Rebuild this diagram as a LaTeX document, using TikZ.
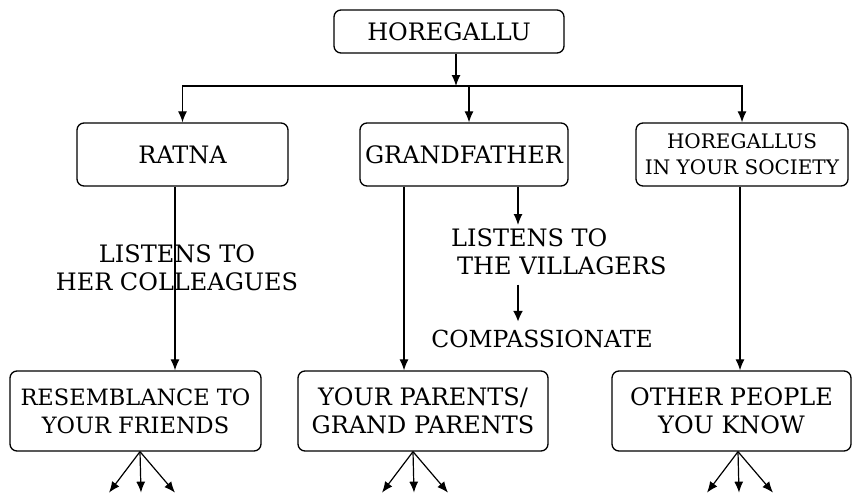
\documentclass[tikz,border=0pt]{standalone}
\usepackage{fontspec}
\setmainfont{DejaVu Serif}
\usetikzlibrary{arrows.meta}
\tikzset{
  boxnode/.style={draw, line width=1.3pt, rounded corners=7pt, inner sep=0pt, align=center, font=\fontsize{24}{28}\selectfont},
  lbl/.style={inner sep=0pt, font=\fontsize{24}{28}\selectfont},
  arr/.style={line width=1.2pt, -{Latex[length=11pt,width=9pt]}},
  thickarr/.style={line width=2.6pt, -{Latex[length=11pt,width=10pt]}},
}
\begin{document}
\begin{tikzpicture}[x=1pt,y=1pt,yscale=-1,xscale=1]
\useasboundingbox (0,0) rectangle (853,495);

%Shape: Rounded Rect (top)
\node[boxnode, minimum width=230pt, minimum height=43pt] (horegallu) at (449,31.5) {HOREGALLU};
%Shape: Rounded Rect (middle row)
\node[boxnode, minimum width=211pt, minimum height=63pt] (ratna) at (182.5,154.5) {RATNA};
\node[boxnode, minimum width=208pt, minimum height=63pt] (grandfather) at (464,154.5) {GRANDFATHER};
\node[boxnode, minimum width=212pt, minimum height=63pt, font=\fontsize{20}{26}\selectfont] (society) at (742,154.5) {HOREGALLUS\\IN YOUR SOCIETY};
%Shape: Rounded Rect (bottom row)
\node[boxnode, minimum width=251pt, minimum height=80pt, font=\fontsize{22.5}{28}\selectfont] (resemblance) at (135.5,411) {RESEMBLANCE TO\\YOUR FRIENDS};
\node[boxnode, minimum width=250pt, minimum height=80pt] (parents) at (423,411) {YOUR PARENTS/\\GRAND PARENTS};
\node[boxnode, minimum width=239pt, minimum height=80pt] (others) at (731.5,411) {OTHER PEOPLE\\YOU KNOW};

% Text Node
\node[lbl, align=center] (colleagues) at (177,268) {LISTENS TO\\HER COLLEAGUES};
% Text Node
\node[lbl, align=left, anchor=north west] (villagers) at (451,228) {LISTENS TO\\\hspace{6pt}THE VILLAGERS};
% Text Node
\node[lbl, font=\fontsize{23.5}{28}\selectfont] (compassion) at (542,339) {COMPASSIONATE};

%Straight Lines (split under the top box)
\coordinate (split) at (456,86);
\draw[arr] (split |- horegallu.south) -- (split);
\draw[arr] (split) -| (ratna.north);
\draw[arr] (split) -| (society.north);
\draw[arr] ([xshift=13pt]split) -- ([xshift=13pt]split |- grandfather.north);

%Straight Lines (down to the bottom row)
\draw[arr] ([xshift=-7.5pt]ratna.south) -- ([xshift=-7.5pt]ratna.south |- resemblance.north);
\draw[arr] ([xshift=-60pt]grandfather.south) -- ([xshift=-60pt]grandfather.south |- parents.north);
\draw[arr] ([xshift=-2pt]society.south) -- ([xshift=-2pt]society.south |- others.north);

%Straight Lines (grandfather branch)
\coordinate (gfx) at ([xshift=54pt]grandfather.south);
\draw[arr] (gfx) -- ([yshift=-3pt]gfx |- villagers.north);
\draw[thickarr] ([yshift=10pt]villagers.south -| gfx) -- ([yshift=-8pt]compassion.north -| gfx);

%Straight Lines (fans)
\foreach \b/\s in {resemblance/4.5, parents/-10, others/6.5}
  \foreach \dx in {-31,1,35}
    \draw[arr] ([xshift=\s pt]\b.south) -- ++(\dx,41);

\end{tikzpicture}
\end{document}
